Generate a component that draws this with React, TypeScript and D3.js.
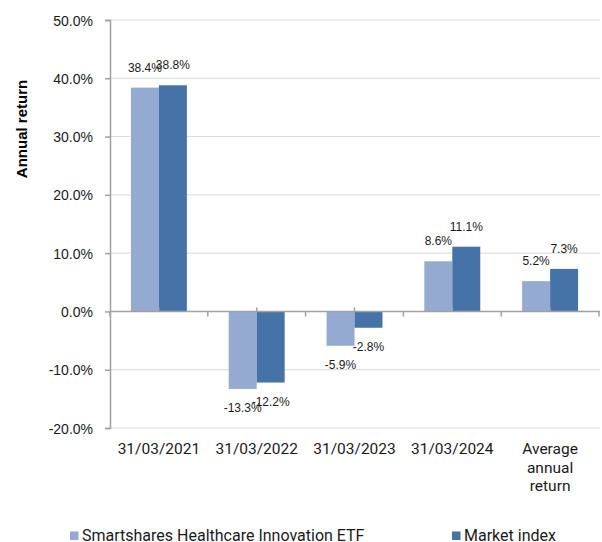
import React, { useEffect, useRef } from "react";
import * as d3 from "d3";

const categories = ["31/03/2021", "31/03/2022", "31/03/2023", "31/03/2024", "Average annual return"];
const categoryLines = [["31/03/2021"], ["31/03/2022"], ["31/03/2023"], ["31/03/2024"], ["Average", "annual", "return"]];
const seriesNames = ["Smartshares Healthcare Innovation ETF", "Market index"];
const etfValues = [38.4, -13.3, -5.9, 8.6, 5.2];
const indexValues = [38.8, -12.2, -2.8, 11.1, 7.3];
const yTicks = [50, 40, 30, 20, 10, 0, -10, -20];
const colors = ["#95AAD1", "#4573A8"];

const App = () => {
  const ref = useRef<SVGSVGElement>(null);

  useEffect(() => {
    const svg = d3.select(ref.current);
    svg.selectAll("*").remove();

    const width = 602;
    const height = 542;
    const left = 110;
    const right = 599;

    const y = d3.scaleLinear().domain([-20, 50]).range([428, 20]);
    const x = d3.scaleBand().domain(categories).range([left, right]);
    const bw = x.bandwidth();
    const xs = d3
      .scaleBand()
      .domain(seriesNames)
      .range([bw * 0.214, bw * 0.786]);

    const series = [etfValues, indexValues];

    // gridlines
    svg
      .append("g")
      .selectAll("line")
      .data(yTicks.filter((t) => t !== 0))
      .enter()
      .append("line")
      .attr("x1", left)
      .attr("x2", right + 1)
      .attr("y1", (d) => y(d))
      .attr("y2", (d) => y(d))
      .attr("stroke", "#d9d9d9")
      .attr("stroke-width", 1);

    // bars
    series.forEach((vals, si) => {
      svg
        .append("g")
        .selectAll("rect")
        .data(vals)
        .enter()
        .append("rect")
        .attr("x", (d, i) => x(categories[i])! + xs(seriesNames[si])!)
        .attr("y", (d) => (d >= 0 ? y(d) : y(0)))
        .attr("width", xs.bandwidth())
        .attr("height", (d) => Math.abs(y(d) - y(0)))
        .attr("fill", colors[si]);
    });

    // y axis
    const yAxis = svg.append("g").attr("transform", `translate(${left},0)`);
    yAxis
      .call(d3.axisLeft(y).tickValues(yTicks).tickSize(5).tickFormat((d) => `${(+d).toFixed(1)}%`))
      .call((g) => g.select(".domain").attr("stroke", "#a0a0a0").attr("stroke-width", 1.5))
      .call((g) => g.selectAll(".tick line").attr("stroke", "#a0a0a0").attr("stroke-width", 1.5))
      .call((g) =>
        g
          .selectAll(".tick text")
          .attr("x", -17)
          .attr("dy", "0.36em")
          .attr("fill", "#1a1a1a")
          .style("font-family", "'Liberation Sans', Arial, sans-serif")
          .style("font-size", "14px")
      );

    // zero line
    svg
      .append("line")
      .attr("x1", left)
      .attr("x2", right + 1)
      .attr("y1", y(0))
      .attr("y2", y(0))
      .attr("stroke", "#a0a0a0")
      .attr("stroke-width", 1.5);

    // category boundary ticks (down) and centre ticks (up)
    const bounds = categories.map((c) => x(c)! + bw).concat([left]);
    svg
      .append("g")
      .selectAll("line")
      .data(bounds)
      .enter()
      .append("line")
      .attr("x1", (d) => d)
      .attr("x2", (d) => d)
      .attr("y1", y(0))
      .attr("y2", y(0) + 5)
      .attr("stroke", "#a0a0a0")
      .attr("stroke-width", 1.5);
    svg
      .append("g")
      .selectAll("line")
      .data(categories)
      .enter()
      .append("line")
      .attr("x1", (d) => x(d)! + bw / 2)
      .attr("x2", (d) => x(d)! + bw / 2)
      .attr("y1", y(0))
      .attr("y2", y(0) - 4)
      .attr("stroke", "#a0a0a0")
      .attr("stroke-width", 1.5);

    // value labels
    series.forEach((vals, si) => {
      svg
        .append("g")
        .selectAll("text")
        .data(vals)
        .enter()
        .append("text")
        .attr("x", (d, i) => x(categories[i])! + xs(seriesNames[si])! + xs.bandwidth() / 2)
        .attr("y", (d) => (d >= 0 ? y(d) - 16 : y(d) + 23))
        .attr("text-anchor", "middle")
        .attr("fill", "#1a1a1a")
        .style("font-family", "'Liberation Sans', Arial, sans-serif")
        .style("font-size", "12px")
        .text((d) => `${d.toFixed(1)}%`);
    });

    // category labels
    const cat = svg
      .append("g")
      .selectAll("text")
      .data(categories)
      .enter()
      .append("text")
      .attr("text-anchor", "middle")
      .attr("fill", "#1a1a1a")
      .style("font-family", "Roboto, sans-serif")
      .style("font-size", "15.5px");
    cat
      .selectAll("tspan")
      .data((d, i) => categoryLines[i].map((l) => ({ l, c: d })))
      .enter()
      .append("tspan")
      .attr("x", (d) => x(d.c)! + bw / 2)
      .attr("y", (d, j) => 454 + j * 18.5)
      .text((d) => d.l);

    // y title
    svg
      .append("text")
      .attr("transform", "translate(27,129) rotate(-90)")
      .attr("text-anchor", "middle")
      .attr("fill", "#000")
      .style("font-family", "'Liberation Sans', Arial, sans-serif")
      .style("font-weight", "bold")
      .style("font-size", "15px")
      .text("Annual return");

    // legend
    const legendX = [70, 452];
    const lg = svg
      .append("g")
      .selectAll("g")
      .data(seriesNames)
      .enter()
      .append("g")
      .attr("transform", (d, i) => `translate(${legendX[i]},0)`);
    lg.append("rect")
      .attr("x", 0)
      .attr("y", 531.5)
      .attr("width", 8.5)
      .attr("height", 8.5)
      .attr("fill", (d, i) => colors[i]);
    lg.append("text")
      .attr("x", 12)
      .attr("y", 540.5)
      .attr("fill", "#1a1a1a")
      .style("font-family", "Roboto, sans-serif")
      .style("font-size", "16px")
      .text((d) => d);

    svg.attr("width", width).attr("height", height);
  }, []);

  return (
    <svg
      ref={ref}
      width={602}
      height={542}
      style={{ position: "absolute", left: 0, top: 0, background: "#fff" }}
    ></svg>
  );
};

export default App;
